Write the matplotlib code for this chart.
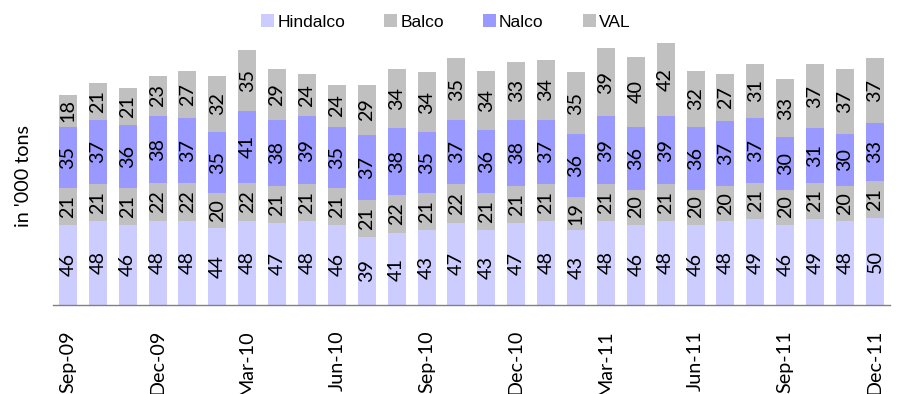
import matplotlib
matplotlib.use("Agg")
import matplotlib.pyplot as plt
from matplotlib.patches import Patch
import numpy as np

months = ["Sep-09", "Oct-09", "Nov-09", "Dec-09", "Jan-10", "Feb-10", "Mar-10",
          "Apr-10", "May-10", "Jun-10", "Jul-10", "Aug-10", "Sep-10", "Oct-10",
          "Nov-10", "Dec-10", "Jan-11", "Feb-11", "Mar-11", "Apr-11", "May-11",
          "Jun-11", "Jul-11", "Aug-11", "Sep-11", "Oct-11", "Nov-11", "Dec-11"]
hindalco = [46, 48, 46, 48, 48, 44, 48, 47, 48, 46, 39, 41, 43, 47, 43, 47, 48, 43,
            48, 46, 48, 46, 48, 49, 46, 49, 48, 50]
balco = [21, 21, 21, 22, 22, 20, 22, 21, 21, 21, 21, 22, 21, 22, 21, 21, 21, 19,
         21, 20, 21, 20, 20, 21, 20, 21, 20, 21]
nalco = [35, 37, 36, 38, 37, 35, 41, 38, 39, 35, 37, 38, 35, 37, 36, 38, 37, 36,
         39, 36, 39, 36, 37, 37, 30, 31, 30, 33]
val = [18, 21, 21, 23, 27, 32, 35, 29, 24, 24, 29, 34, 34, 35, 34, 33, 34, 35,
       39, 40, 42, 32, 27, 31, 33, 37, 37, 37]

series = [("Hindalco", hindalco, "#CCCCFF"),
          ("Balco", balco, "#C0C0C0"),
          ("Nalco", nalco, "#9999FF"),
          ("VAL", val, "#C0C0C0")]

FS = 14.2

fig = plt.figure(figsize=(8.97, 3.94), dpi=100)
ax = fig.add_axes([0.059, 0.226, 0.933, 0.71])

x = np.arange(len(months))
bottom = np.zeros(len(months))
for name, vals, color in series:
    vals = np.array(vals, dtype=float)
    ax.bar(x, vals, width=0.6, bottom=bottom, color=color, label=name)
    for xi, b, v in zip(x, bottom, vals):
        ax.text(xi, b + v / 2, f"{int(v)}", rotation=90, ha="center", va="center",
                fontsize=FS, family="Lato", color="black")
    bottom += vals

ax.set_xlim(-0.5, len(months) - 0.5)
ax.set_ylim(0, 160)
ax.set_yticks([])
for side in ["top", "right", "left"]:
    ax.spines[side].set_visible(False)
ax.spines["bottom"].set_color("#808080")
ax.spines["bottom"].set_linewidth(1.0)

tick_pos = x[::3]
ax.set_xticks(tick_pos)
ax.set_xticklabels([months[i] for i in tick_pos], rotation=90, fontsize=FS,
                   family="Lato", va="top", ha="center")
ax.tick_params(axis="x", length=0, pad=18)

ax.set_ylabel("in '000 tons", fontsize=FS, family="Lato")
ax.yaxis.set_label_coords(-0.025, 0.46)

handles = [Patch(facecolor=c, label=n) for n, _, c in series]
fig.legend(handles=handles, loc="center", bbox_to_anchor=(0.497, 0.944), ncol=4,
           frameon=False, prop={"family": "Liberation Sans", "size": 12.5},
           handlelength=0.75, handleheight=0.75, handletextpad=0.17,
           columnspacing=2.25, borderpad=0)

fig.savefig("out.png", dpi=100)
